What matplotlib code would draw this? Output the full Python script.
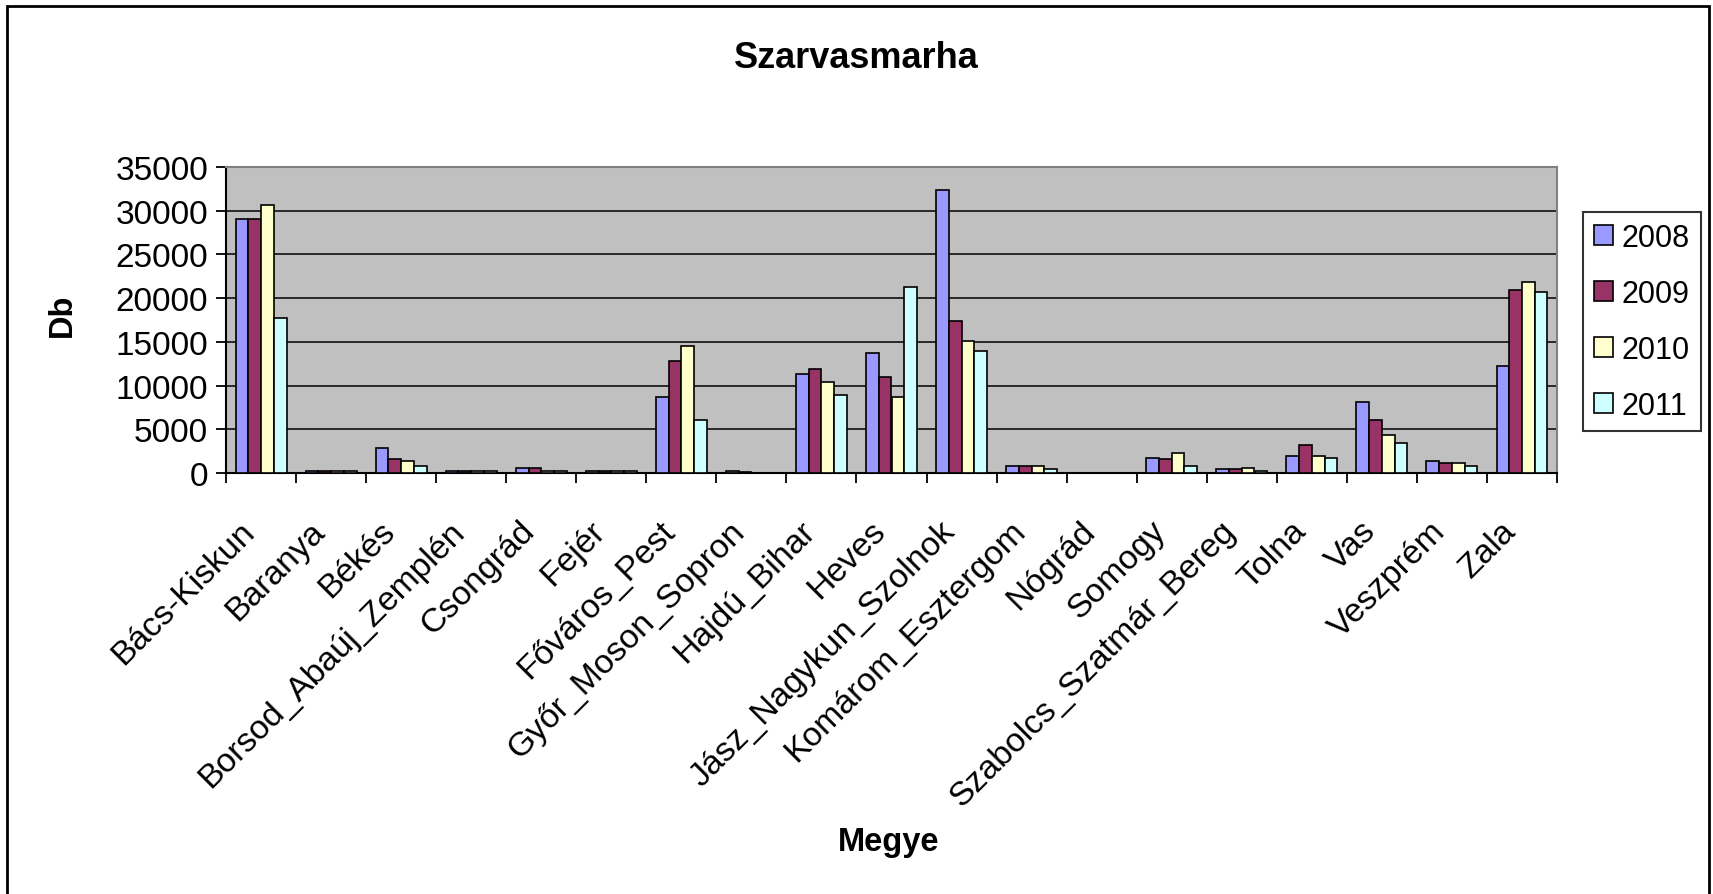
import numpy as np
import matplotlib
matplotlib.use("Agg")
import matplotlib.pyplot as plt
from matplotlib.patches import Patch, Rectangle

plt.rcParams['font.family'] = ['Liberation Sans', 'DejaVu Sans']

# adatok
megyek = ['Bács-Kiskun', 'Baranya', 'Békés', 'Borsod_Abaúj_Zemplén', 'Csongrád',
          'Fejér', 'Főváros_Pest', 'Győr_Moson_Sopron', 'Hajdú_Bihar', 'Heves',
          'Jász_Nagykun_Szolnok', 'Komárom_Esztergom', 'Nógrád', 'Somogy',
          'Szabolcs_Szatmár_Bereg', 'Tolna', 'Vas', 'Veszprém', 'Zala']
evek = ['2008', '2009', '2010', '2011']
db_2008 = [29100, 200, 2900, 200, 530, 200, 8700, 250, 11300, 13700,
           32400, 840, 0, 1700, 500, 2000, 8100, 1400, 12200]
db_2009 = [29100, 200, 1650, 200, 530, 200, 12800, 100, 11900, 11000,
           17400, 840, 0, 1650, 500, 3170, 6070, 1100, 20950]
db_2010 = [30600, 200, 1370, 200, 230, 200, 14500, 0, 10400, 8660,
           15100, 840, 0, 2250, 530, 2000, 4350, 1100, 21800]
db_2011 = [17750, 200, 840, 200, 230, 200, 6100, 0, 8970, 21300,
           14000, 420, 0, 840, 230, 1680, 3430, 840, 20650]
szinek = ['#9999FF', '#993366', '#FFFFCC', '#CCFFFF']

fig = plt.figure(figsize=(17.13, 8.95), dpi=100)
ax = fig.add_axes([226 / 1713, 1 - 474 / 895, (1557 - 226) / 1713, (474 - 168) / 895])
ax.set_facecolor('#C0C0C0')

x = np.arange(len(megyek))
w = 1 / 5.5
for i, (vals, c) in enumerate(zip([db_2008, db_2009, db_2010, db_2011], szinek)):
    ax.bar(x + (i - 1.5) * w, vals, width=w, color=c, edgecolor='black',
           linewidth=1.2, zorder=3)

ax.set_xlim(-0.5, len(megyek) - 0.5)
ax.set_ylim(0, 35000)
ax.set_yticks(np.arange(0, 35001, 5000))
ax.yaxis.grid(True, color='black', linewidth=1.1, zorder=1)
ax.set_axisbelow(True)

ax.set_xticks(x)
ax.set_xticklabels(megyek, rotation=45, ha='right', va='bottom',
                   rotation_mode='anchor', fontsize=24.3)
ax.tick_params(axis='x', length=0, pad=46)
ax.set_xticks(np.arange(-0.5, len(megyek)), minor=True)
ax.tick_params(axis='x', which='minor', length=7, width=1.3, direction='out')
ax.tick_params(axis='y', labelsize=24, length=7, width=1.3, pad=6)

for side in ['top', 'right']:
    ax.spines[side].set_color('#808080')
    ax.spines[side].set_linewidth(1.5)
for side in ['left', 'bottom']:
    ax.spines[side].set_color('black')
    ax.spines[side].set_linewidth(1.5)

fig.text(0.5, 1 - 59 / 895, 'Szarvasmarha', ha='center', va='center',
         fontsize=26, fontweight='bold')
fig.text(62 / 1713, 1 - 315 / 895, 'Db', ha='center', va='center',
         rotation=90, fontsize=23.5, fontweight='bold')
fig.text(889 / 1713, 1 - 843 / 895, 'Megye', ha='center', va='center',
         fontsize=23.5, fontweight='bold')

handles = [Patch(facecolor=c, edgecolor='black', linewidth=1.2) for c in szinek]
leg = fig.legend(handles, evek, loc='upper left',
                 bbox_to_anchor=(1583 / 1713, 1 - 213 / 895),
                 bbox_transform=fig.transFigure, borderaxespad=0,
                 fontsize=22, frameon=True, fancybox=False,
                 handlelength=0.62, handleheight=0.62, handletextpad=0.3,
                 labelspacing=0.85, borderpad=0.35)
leg.get_frame().set_edgecolor('black')
leg.get_frame().set_linewidth(1.5)

# keret
fig.patches.append(Rectangle((7 / 1713, -0.05), (1709 - 7) / 1713, 1.05 - 7 / 895,
                             transform=fig.transFigure, fill=False,
                             edgecolor='black', linewidth=2))

fig.savefig('out.png', dpi=100)
